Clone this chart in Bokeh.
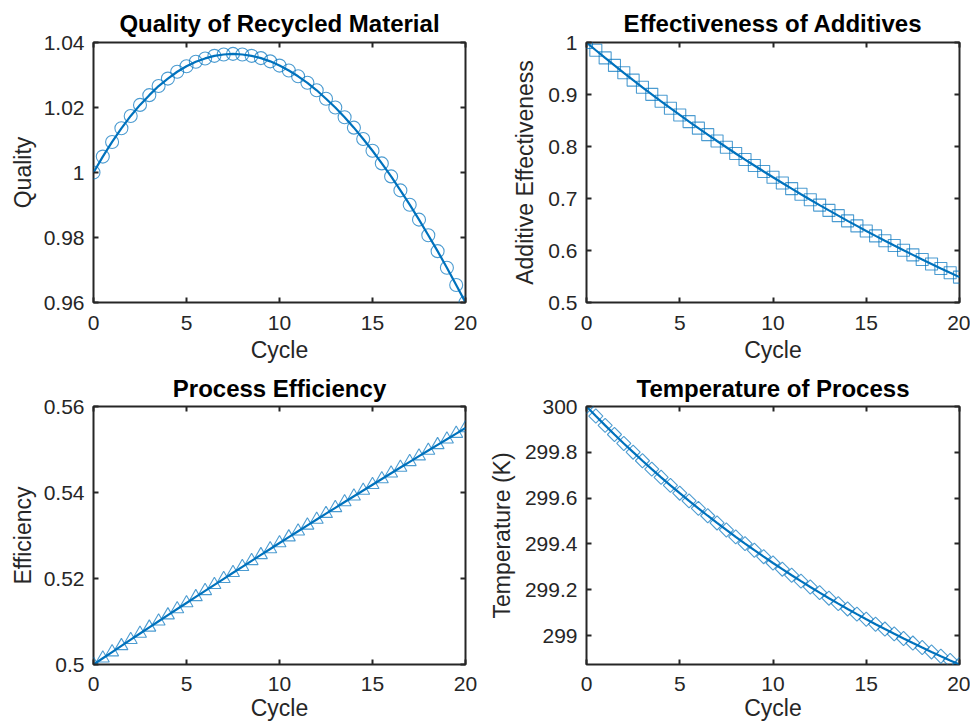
from bokeh.plotting import figure
from bokeh.models import Range1d, LinearAxis, FixedTicker, CustomJSTickFormatter
from bokeh.layouts import column, row
from bokeh.embed import file_html
from bokeh.resources import INLINE

cycle = [0, 0.5, 1, 1.5, 2, 2.5, 3, 3.5, 4, 4.5, 5, 5.5, 6, 6.5, 7, 7.5, 8, 8.5, 9, 9.5,
         10, 10.5, 11, 11.5, 12, 12.5, 13, 13.5, 14, 14.5, 15, 15.5, 16, 16.5, 17, 17.5,
         18, 18.5, 19, 19.5, 20]

quality = [1.0000, 1.0049, 1.0094, 1.0136, 1.0174, 1.0208, 1.0238, 1.0266, 1.0289, 1.0310,
           1.0327, 1.0341, 1.0351, 1.0359, 1.0363, 1.0365, 1.0363, 1.0359, 1.0352, 1.0342,
           1.0329, 1.0314, 1.0296, 1.0276, 1.0253, 1.0227, 1.0200, 1.0170, 1.0138, 1.0103,
           1.0067, 1.0028, 0.9988, 0.9945, 0.9901, 0.9855, 0.9807, 0.9758, 0.9707, 0.9654,
           0.9600]

effectiveness = [1.0000, 0.9851, 0.9704, 0.9560, 0.9418, 0.9277, 0.9139, 0.9003, 0.8869, 0.8737,
                 0.8607, 0.8479, 0.8353, 0.8228, 0.8106, 0.7985, 0.7866, 0.7749, 0.7634, 0.7520,
                 0.7408, 0.7298, 0.7189, 0.7082, 0.6977, 0.6873, 0.6771, 0.6670, 0.6570, 0.6473,
                 0.6376, 0.6281, 0.6188, 0.6096, 0.6005, 0.5916, 0.5827, 0.5741, 0.5655, 0.5571,
                 0.5488]

efficiency = [0.50000, 0.50145, 0.50289, 0.50433, 0.50577, 0.50720, 0.50863, 0.51006, 0.51148, 0.51290,
              0.51431, 0.51572, 0.51713, 0.51853, 0.51993, 0.52133, 0.52272, 0.52411, 0.52549, 0.52687,
              0.52825, 0.52962, 0.53099, 0.53236, 0.53372, 0.53508, 0.53643, 0.53778, 0.53913, 0.54047,
              0.54181, 0.54315, 0.54448, 0.54581, 0.54713, 0.54845, 0.54977, 0.55108, 0.55239, 0.55370,
              0.55500]

temperature = [300.0000, 299.9584, 299.9176, 299.8778, 299.8387, 299.8006, 299.7632, 299.7266, 299.6909, 299.6558,
               299.6216, 299.5880, 299.5552, 299.5231, 299.4917, 299.4610, 299.4309, 299.4014, 299.3726, 299.3444,
               299.3168, 299.2898, 299.2634, 299.2375, 299.2122, 299.1875, 299.1632, 299.1395, 299.1163, 299.0936,
               299.0714, 299.0496, 299.0284, 299.0075, 298.9872, 298.9672, 298.9477, 298.9286, 298.9099, 298.8916,
               298.8737]

x_ticks = [0, 5, 10, 15, 20]
quality_ticks = [0.96, 0.98, 1.0, 1.02, 1.04]
effect_ticks = [0.5, 0.6, 0.7, 0.8, 0.9, 1.0]
eff_ticks = [0.5, 0.52, 0.54, 0.56]
temp_ticks = [299.0, 299.2, 299.4, 299.6, 299.8, 300.0]

BLUE = "#0072BD"
AX = "#262626"
FONT = "Liberation Sans"

fmt_code = "return String(Number(tick.toFixed(6)));"


def make(title, ylabel, y, yticks, yrange, marker, msize, angle,
         width, height, bl, bt, bb, br, ylab_standoff, xtick_standoff, xlab_standoff, title_standoff):
    p = figure(width=width, height=height, output_backend="svg", toolbar_location=None,
               x_range=Range1d(0, 20), y_range=Range1d(*yrange),
               min_border_left=bl, min_border_top=bt, min_border_bottom=bb, min_border_right=br)
    p.background_fill_color = "white"
    p.border_fill_color = "white"
    p.outline_line_color = AX
    p.outline_line_width = 2
    p.grid.visible = False

    p.title.text = title
    p.title.align = "center"
    p.title.text_font = FONT
    p.title.text_font_size = "24px"
    p.title.text_font_style = "bold"
    p.title.text_color = "#000000"
    p.title.standoff = title_standoff

    p.line(cycle, y, line_color=BLUE, line_width=2.2)
    p.scatter(cycle, y, marker=marker, size=msize, angle=angle, fill_color=None,
              line_color=BLUE, line_alpha=0.7, line_width=1.1)

    xa = p.xaxis[0]
    xa.ticker = FixedTicker(ticks=x_ticks)
    xa.formatter = CustomJSTickFormatter(code=fmt_code)
    xa.axis_label = "Cycle"
    xa.major_label_standoff = xtick_standoff
    xa.axis_label_standoff = xlab_standoff
    ya = p.yaxis[0]
    ya.ticker = FixedTicker(ticks=yticks)
    ya.formatter = CustomJSTickFormatter(code=fmt_code)
    ya.axis_label = ylabel
    ya.major_label_standoff = 9
    ya.axis_label_standoff = ylab_standoff

    for ax in (xa, ya):
        ax.axis_line_color = None
        ax.major_tick_in = 5
        ax.major_tick_out = 0
        ax.major_tick_line_color = AX
        ax.major_tick_line_width = 2
        ax.minor_tick_line_color = None
        ax.major_label_text_font = FONT
        ax.major_label_text_font_size = "21px"
        ax.major_label_text_color = AX
        ax.axis_label_text_font = FONT
        ax.axis_label_text_font_size = "23px"
        ax.axis_label_text_font_style = "normal"
        ax.axis_label_text_color = AX

    top = LinearAxis(ticker=FixedTicker(ticks=x_ticks))
    right = LinearAxis(ticker=FixedTicker(ticks=yticks))
    for ax in (top, right):
        ax.axis_line_color = None
        ax.major_tick_in = 5
        ax.major_tick_out = 0
        ax.major_tick_line_color = AX
        ax.major_tick_line_width = 2
        ax.minor_tick_line_color = None
        ax.major_label_text_font_size = "0px"
        ax.major_label_standoff = 0
    p.add_layout(top, "above")
    p.add_layout(right, "right")
    return p


# top row: frame 42..302 ; bottom row: frame 404..664
p1 = make("Quality of Recycled Material", "Quality", quality, quality_ticks, (0.96, 1.04),
          "circle", 13, 0, 480, 368, 93, 42, 66, 15, 5, 13, 4, 11)
p2 = make("Effectiveness of Additives", "Additive Effectiveness", effectiveness, effect_ticks, (0.5, 1.0),
          "square", 12, 0, 490, 368, 106, 42, 66, 11, 7, 13, 4, 11)
p3 = make("Process Efficiency", "Efficiency", efficiency, eff_ticks, (0.5, 0.56),
          "triangle", 13, 0, 480, 358, 93, 36, 62, 15, 5, 12, 1, 9)
p4 = make("Temperature of Process", "Temperature (K)", temperature, temp_ticks,
          (min(temperature), max(temperature)),
          "square", 10, 0.785398, 490, 358, 106, 36, 62, 11, 7, 12, 1, 9)

layout = column(row(p1, p2), row(p3, p4))
open("out.html", "w").write(file_html(layout, INLINE))
